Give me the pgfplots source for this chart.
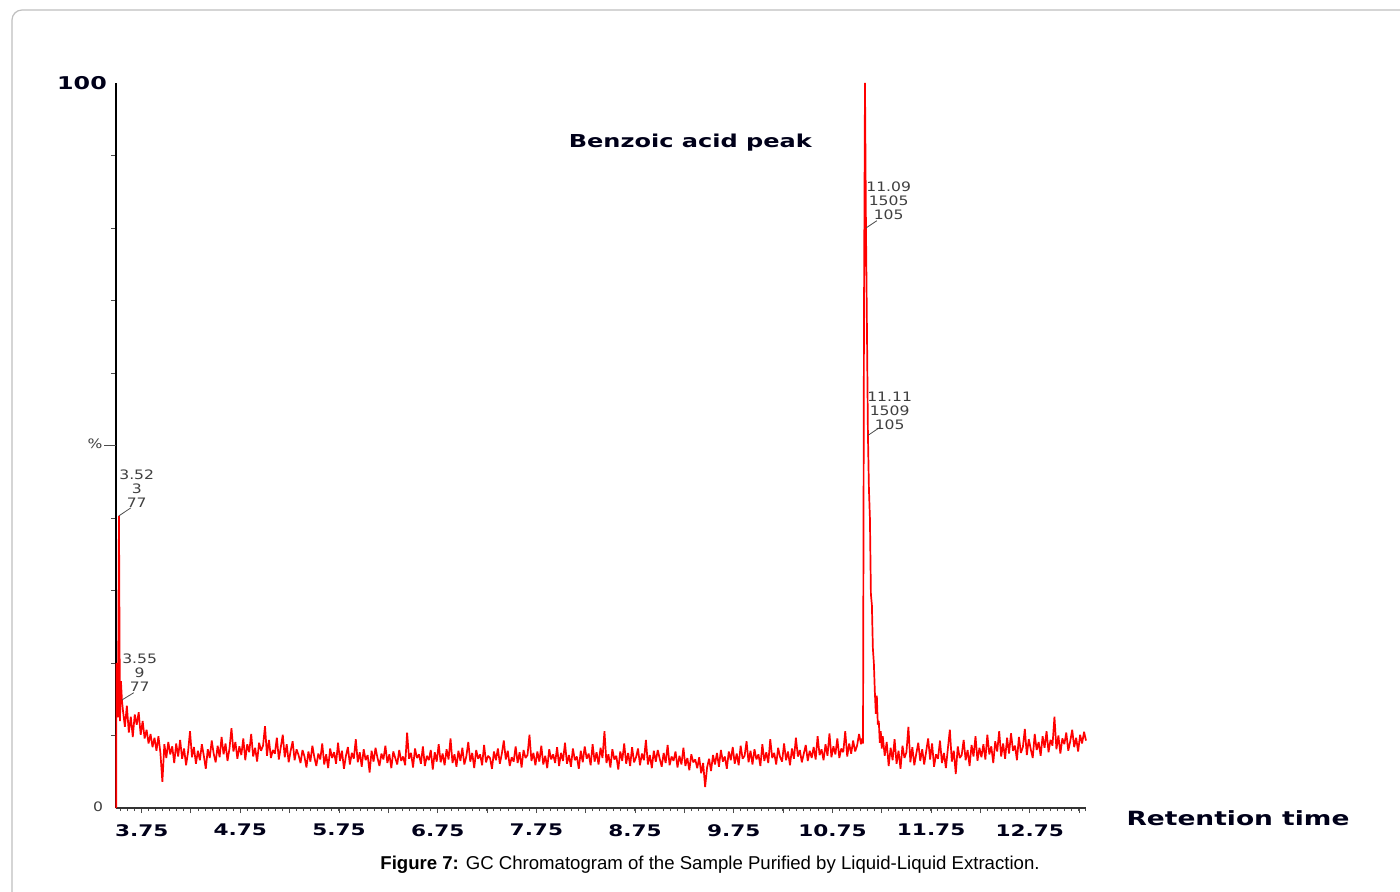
\documentclass[border=0pt]{standalone}
\usepackage{pgfplots}
\pgfplotsset{compat=1.18}
\usepackage{fontspec}
\setmainfont{Liberation Sans}
\newfontfamily\vb[FakeStretch=1.35]{DejaVu Sans}
\newfontfamily\ann[FakeStretch=1.2]{DejaVu Sans}
\newcommand\annfont{\ann\fontsize{6.5}{7}\selectfont\color{black!75}}
\begin{document}
\begin{tikzpicture}
\useasboundingbox (0,0) rectangle (700pt,445.5pt);
% page frame
\draw[black!25, line width=0.6pt, rounded corners=5pt] (6pt,-20pt) -- (6pt,440.5pt) -- (720pt,440.5pt);
\begin{axis}[
  at={(58pt,41.5pt)}, anchor=south west,
  scale only axis, width=485pt, height=362.5pt,
  xmin=3.49, xmax=13.32, ymin=0, ymax=100,
  axis x line=bottom, axis y line=left,
  axis line style={-},
  x axis line style={line width=0.9pt, black!80},
  y axis line style={line width=1pt, black},
  tick align=outside,
  xtick={3.75,4.25,...,13.25},
  xticklabels={3.75,,4.75,,5.75,,6.75,,7.75,,8.75,,9.75,,10.75,,11.75,,12.75,},
  minor xtick={3.5357,3.6071,...,13.33},
  major tick length=2.6pt, minor tick length=1.6pt,
  every tick/.style={black!70, line width=0.5pt},
  xticklabel style={font=\vb\bfseries\fontsize{8}{9}\selectfont, text=black!90!blue, yshift=-2pt},
  ytick={10,20,30,40,60,70,80,90},
  yticklabels={},
  extra y ticks={50},
  extra y tick labels={},
  extra y tick style={major tick length=6pt},
  clip=false,
]
\addplot[red, line width=0.85pt, line join=bevel] coordinates {
(3.492,0)(3.495,20.0)(3.50,17.0)(3.51,12.5)(3.52,40.3)(3.53,12.0)(3.54,17.5)(3.55,14.9)
(3.56,13.5)(3.58,11.2)(3.60,14.1)(3.62,10.4)(3.64,12.6)(3.66,9.8)(3.68,12.9)(3.70,11.5)(3.72,13.2)(3.74,10.1)
(3.76,12.0)(3.78,9.6)(3.80,10.8)(3.82,8.9)(3.84,10.2)(3.86,8.4)(3.88,9.7)(3.90,7.9)(3.92,9.9)(3.94,7.6)
(3.96,3.6)(3.98,8.8)(4.00,6.9)(4.02,9.1)(4.04,7.4)(4.06,8.5)(4.08,6.2)(4.10,8.9)(4.12,7.1)(4.14,9.4)
(4.16,6.8)(4.18,8.2)(4.20,5.9)(4.22,7.7)(4.24,10.6)(4.26,7.0)(4.28,8.4)(4.30,6.1)(4.32,7.9)(4.34,6.6)
(4.36,8.8)(4.38,7.2)(4.40,5.4)(4.42,8.1)(4.44,6.9)(4.46,9.3)(4.48,7.5)(4.50,6.3)(4.52,8.6)(4.54,7.0)
(4.56,9.8)(4.58,7.4)(4.60,8.9)(4.62,6.5)(4.64,8.2)(4.66,11.0)(4.68,7.8)(4.70,9.1)(4.72,6.8)(4.74,8.5)
(4.76,7.3)(4.78,9.6)(4.80,6.6)(4.82,8.8)(4.84,7.7)(4.86,10.2)(4.88,7.1)(4.90,8.3)(4.92,6.4)(4.94,9.0)
(4.96,7.9)(4.98,8.6)(5.00,11.3)(5.02,7.2)(5.04,9.4)(5.06,6.9)(5.08,8.0)(5.10,7.5)(5.12,9.7)(5.14,6.7)
(5.16,8.4)(5.18,10.1)(5.20,7.0)(5.22,8.8)(5.24,6.3)(5.26,7.9)(5.28,9.2)(5.30,6.6)(5.32,8.1)(5.34,7.3)
(5.36,6.2)(5.38,8.0)(5.40,7.1)(5.42,5.6)(5.44,7.8)(5.46,6.4)(5.48,8.6)(5.50,7.0)(5.52,5.8)(5.54,7.5)
(5.56,6.7)(5.58,8.9)(5.60,6.0)(5.62,7.4)(5.64,5.5)(5.66,8.2)(5.68,6.9)(5.70,7.7)(5.72,6.1)(5.74,9.0)
(5.76,6.5)(5.78,7.9)(5.80,5.4)(5.82,7.2)(5.84,8.4)(5.86,6.0)(5.88,7.6)(5.90,6.8)(5.92,9.5)(5.94,6.3)
(5.96,7.7)(5.98,5.7)(6.00,8.1)(6.02,6.6)(6.04,7.3)(6.06,4.9)(6.08,7.9)(6.10,6.4)(6.12,8.3)(6.14,6.9)
(6.16,5.8)(6.18,7.5)(6.20,6.7)(6.22,8.6)(6.24,6.2)(6.26,7.4)(6.28,5.5)(6.30,7.8)(6.32,6.9)(6.34,6.0)
(6.36,8.0)(6.38,6.5)(6.40,7.1)(6.42,5.9)(6.44,10.4)(6.46,6.8)(6.48,7.6)(6.50,5.6)(6.52,8.2)(6.54,6.9)
(6.56,7.4)(6.58,6.1)(6.60,8.5)(6.62,5.8)(6.64,7.2)(6.66,6.6)(6.68,8.0)(6.70,5.3)(6.72,7.7)(6.74,6.4)
(6.76,8.8)(6.78,6.3)(6.80,7.5)(6.82,5.9)(6.84,8.1)(6.86,6.7)(6.88,9.6)(6.90,6.2)(6.92,7.4)(6.94,5.7)
(6.96,7.9)(6.98,6.5)(7.00,8.3)(7.02,6.0)(7.04,7.1)(7.06,9.1)(7.08,6.4)(7.10,7.6)(7.12,5.5)(7.14,8.0)
(7.16,6.8)(7.18,7.4)(7.20,5.9)(7.22,8.7)(7.24,6.3)(7.26,7.2)(7.28,6.9)(7.30,5.4)(7.32,7.8)(7.34,6.6)
(7.36,8.2)(7.38,6.1)(7.40,7.5)(7.42,9.3)(7.44,6.7)(7.46,7.9)(7.48,5.8)(7.50,7.0)(7.52,6.4)(7.54,8.5)
(7.56,6.2)(7.58,7.7)(7.60,5.6)(7.62,8.0)(7.64,6.9)(7.66,7.3)(7.68,10.1)(7.70,6.5)(7.72,7.6)(7.74,5.9)
(7.76,7.8)(7.78,6.4)(7.80,8.6)(7.82,6.0)(7.84,7.2)(7.86,5.5)(7.88,8.1)(7.90,6.7)(7.92,7.4)(7.94,6.2)
(7.96,8.4)(7.98,5.8)(8.00,7.6)(8.02,6.5)(8.04,9.0)(8.06,6.1)(8.08,7.3)(8.10,5.7)(8.12,8.2)(8.14,6.6)
(8.16,7.1)(8.18,5.4)(8.20,7.9)(8.22,6.3)(8.24,8.5)(8.26,6.8)(8.28,7.5)(8.30,5.9)(8.32,8.8)(8.34,6.4)
(8.36,7.7)(8.38,6.0)(8.40,8.3)(8.42,6.9)(8.44,10.6)(8.46,6.2)(8.48,7.4)(8.50,5.6)(8.52,8.1)(8.54,6.7)
(8.56,7.2)(8.58,5.3)(8.60,7.8)(8.62,6.5)(8.64,8.9)(8.66,6.1)(8.68,7.6)(8.70,5.8)(8.72,8.4)(8.74,6.3)
(8.76,7.0)(8.78,8.2)(8.80,5.9)(8.82,7.5)(8.84,6.6)(8.86,9.4)(8.88,6.0)(8.90,7.3)(8.92,5.5)(8.94,7.9)
(8.96,6.4)(8.98,8.0)(9.00,6.8)(9.02,5.7)(9.04,7.6)(9.06,6.2)(9.08,8.7)(9.10,5.9)(9.12,7.1)(9.14,6.5)
(9.16,7.8)(9.18,5.6)(9.20,7.2)(9.22,6.0)(9.24,8.3)(9.26,5.8)(9.28,6.9)(9.30,5.2)(9.32,7.4)(9.34,6.3)
(9.36,6.7)(9.38,5.5)(9.40,7.0)(9.42,4.8)(9.44,6.2)(9.46,2.9)(9.48,5.6)(9.50,6.8)(9.52,5.1)(9.54,7.3)
(9.56,6.0)(9.58,7.6)(9.60,5.7)(9.62,8.0)(9.64,6.4)(9.66,7.1)(9.68,5.4)(9.70,7.8)(9.72,6.6)(9.74,8.4)
(9.76,6.1)(9.78,7.5)(9.80,5.9)(9.82,8.6)(9.84,6.8)(9.86,7.2)(9.88,9.2)(9.90,6.3)(9.92,7.9)(9.94,6.0)
(9.96,8.1)(9.98,6.7)(10.00,7.4)(10.02,5.8)(10.04,8.8)(10.06,6.5)(10.08,7.7)(10.10,6.2)(10.12,9.5)(10.14,6.9)
(10.16,7.6)(10.18,6.0)(10.20,8.3)(10.22,7.0)(10.24,6.4)(10.26,8.9)(10.28,6.6)(10.30,7.8)(10.32,5.9)(10.34,8.2)
(10.36,6.8)(10.38,9.7)(10.40,7.1)(10.42,8.0)(10.44,6.3)(10.46,7.5)(10.48,8.7)(10.50,6.5)(10.52,7.9)(10.54,6.9)
(10.56,8.4)(10.58,6.7)(10.60,9.9)(10.62,7.3)(10.64,8.1)(10.66,6.6)(10.68,8.8)(10.70,7.2)(10.72,10.3)(10.74,7.0)
(10.76,8.5)(10.78,7.4)(10.80,9.6)(10.82,6.9)(10.84,8.2)(10.86,7.7)(10.88,10.6)(10.90,7.1)(10.92,8.9)(10.94,7.5)
(10.96,9.3)(10.98,7.8)(11.00,8.6)(11.02,10.2)(11.04,8.8)
(11.05,9.6)(11.06,8.9)(11.07,68.7)(11.08,100)(11.09,80.0)(11.10,66.0)(11.11,51.4)(11.12,44.0)(11.13,40.0)
(11.14,29.5)(11.15,28.0)(11.16,22.0)(11.17,20.0)(11.18,16.0)(11.19,13.0)(11.20,15.5)(11.21,11.5)(11.22,12.0)
(11.23,9.0)(11.24,10.6)(11.25,8.2)(11.26,9.9)
(11.28,7.2)(11.30,9.1)(11.32,5.8)(11.34,8.3)(11.36,6.6)(11.38,9.5)(11.40,6.1)(11.42,7.9)(11.44,5.4)(11.46,8.6)
(11.48,6.9)(11.50,7.7)(11.52,11.2)(11.54,6.3)(11.56,8.4)(11.58,5.9)(11.60,7.5)(11.62,9.0)(11.64,6.5)(11.66,8.1)
(11.68,6.0)(11.70,7.8)(11.72,9.6)(11.74,6.7)(11.76,8.9)(11.78,5.7)(11.80,7.4)(11.82,6.8)(11.84,9.3)(11.86,6.2)
(11.88,7.6)(11.90,5.5)(11.92,8.2)(11.94,10.8)(11.96,6.4)(11.98,7.9)(12.00,4.7)(12.02,8.5)(12.04,6.9)(12.06,7.3)
(12.08,9.4)(12.10,6.6)(12.12,8.0)(12.14,5.8)(12.16,8.7)(12.18,7.1)(12.20,9.9)(12.22,6.5)(12.24,8.3)(12.26,7.0)
(12.28,8.8)(12.30,6.7)(12.32,10.1)(12.34,7.4)(12.36,8.5)(12.38,6.2)(12.40,9.2)(12.42,7.8)(12.44,10.6)(12.46,7.1)
(12.48,8.9)(12.50,6.8)(12.52,9.7)(12.54,7.5)(12.56,10.3)(12.58,7.9)(12.60,8.6)(12.62,6.6)(12.64,9.8)(12.66,7.6)
(12.68,8.4)(12.70,10.9)(12.72,7.3)(12.74,9.5)(12.76,8.1)(12.78,6.9)(12.80,10.2)(12.82,8.0)(12.84,9.1)(12.86,7.2)
(12.88,9.9)(12.90,8.3)(12.92,10.6)(12.94,7.7)(12.96,9.4)(12.98,8.6)(13.00,12.6)(13.02,8.1)(13.04,10.0)(13.06,7.5)
(13.08,9.6)(13.10,8.8)(13.12,10.4)(13.14,7.9)(13.16,9.2)(13.18,10.8)(13.20,8.4)(13.22,9.7)(13.24,7.8)(13.26,10.1)
(13.28,8.9)(13.30,10.5)(13.32,9.3)
};
% peak annotations: time / scan / base mass
\draw[black!70, line width=0.4pt] (axis cs:3.52,40.3) -- (axis cs:3.64,41.4);
\node[font=\annfont, align=center, inner sep=0pt] at (axis cs:3.70,44.0) {3.52\\3\\77};
\draw[black!70, line width=0.4pt] (axis cs:3.55,14.9) -- (axis cs:3.67,15.9);
\node[font=\annfont, align=center, inner sep=0pt] at (axis cs:3.73,18.6) {3.55\\9\\77};
\draw[black!70, line width=0.4pt] (axis cs:11.09,80.0) -- (axis cs:11.20,81.0);
\node[font=\annfont, align=center, inner sep=0pt] at (axis cs:11.32,83.7) {11.09\\1505\\105};
\draw[black!70, line width=0.4pt] (axis cs:11.11,51.4) -- (axis cs:11.22,52.4);
\node[font=\annfont, align=center, inner sep=0pt] at (axis cs:11.33,54.8) {11.11\\1509\\105};
\node[font=\vb\bfseries\fontsize{8.9}{9}\selectfont, text=black!90!blue] at (axis cs:9.31,91.8) {Benzoic acid peak};
\end{axis}
% axis end labels and titles
\node[font=\vb\bfseries\fontsize{8.8}{9}\selectfont, text=black!90!blue] at (41pt,404pt) {100};
\node[font=\annfont] at (49pt,42pt) {0};
\node[font=\annfont] at (47.5pt,223.5pt) {\%};
\node[font=\vb\bfseries\fontsize{9.8}{10}\selectfont, text=black!90!blue] at (619pt,36.5pt) {Retention time};
\node[font=\fontsize{9.3}{11}\selectfont] at (355pt,13pt) {\textbf{Figure 7:} GC Chromatogram of the Sample Purified by Liquid-Liquid Extraction.};
\end{tikzpicture}
\end{document}
